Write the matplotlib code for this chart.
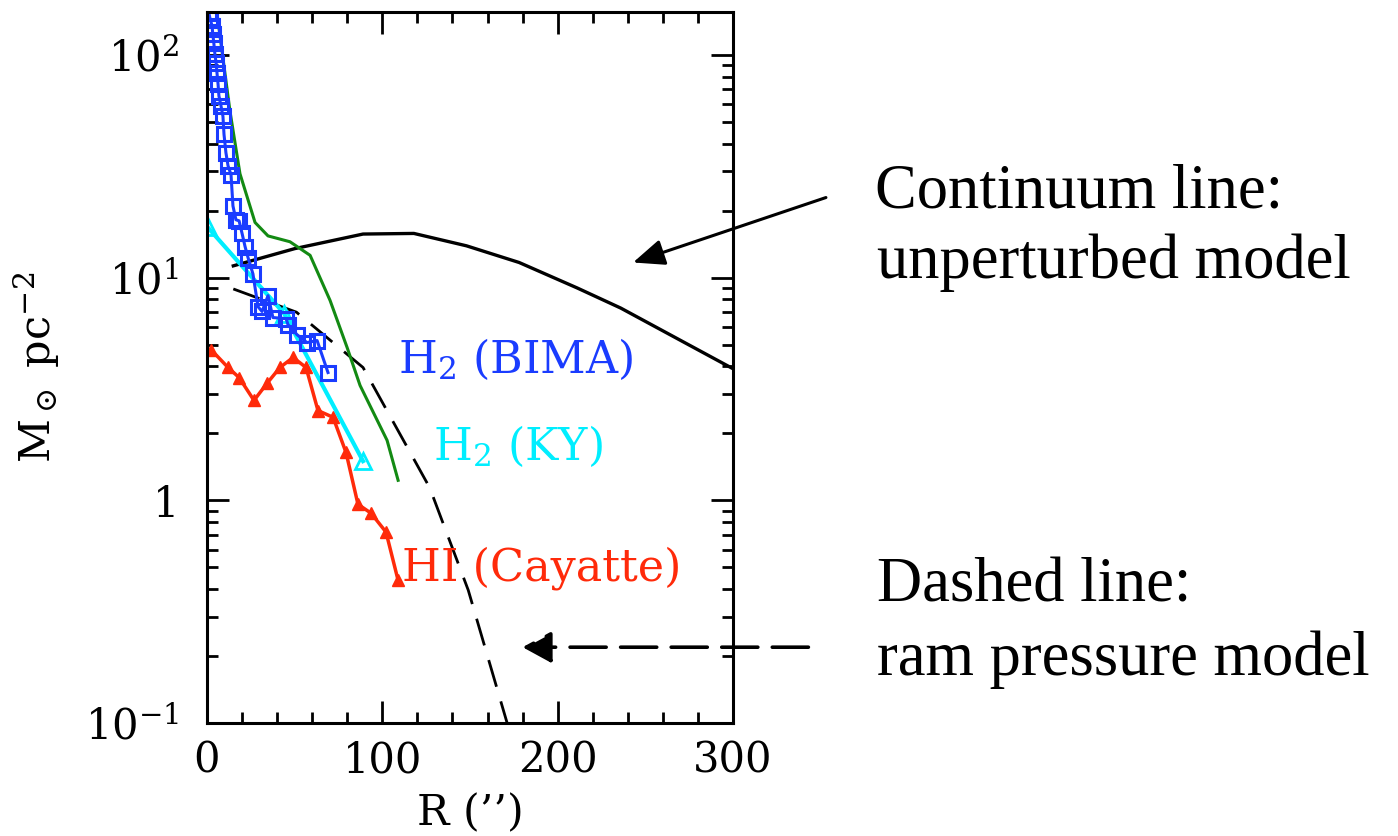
import numpy as np
import matplotlib.pyplot as plt
from matplotlib.ticker import FixedLocator, FixedFormatter, MultipleLocator, LogLocator, NullFormatter

plt.rcParams['font.family'] = 'DejaVu Serif'
plt.rcParams['mathtext.fontset'] = 'dejavuserif'

# Gas surface density profiles, R in arcsec, Sigma in Msun/pc^2
# model: unperturbed (continuum line)
r_cont = [15, 50, 89, 118, 148, 178, 211, 236, 300]
sd_cont = [11.3, 13.5, 15.7, 15.8, 13.9, 11.7, 9.0, 7.3, 3.9]

# model: ram pressure stripped (dashed)
r_ram = [15, 51, 89, 127, 149, 172]
sd_ram = [8.9, 7.0, 3.95, 1.14, 0.395, 0.095]

# green profile
r_green = [4.5, 5.7, 13.1, 18.8, 27.4, 34.8, 47.3, 58.8, 70.2, 79.9, 87.3, 102.7, 109.0]
sd_green = [180, 154, 56, 29.3, 17.7, 15.4, 14.5, 12.6, 7.9, 4.86, 3.28, 1.86, 1.23]

# H2 (BIMA)
r_bima = [1.1, 1.7, 2.9, 3.3, 3.9, 4.5, 5.2, 5.7, 6.3, 6.8, 8.0, 9.1, 9.7, 10.8,
          12.0, 13.7, 14.8, 16.5, 18.3, 20.0, 21.7, 23.4, 26.2, 29.1, 31.4, 34.8,
          37.6, 45.1, 46.2, 51.3, 57.0, 62.8, 69.0]
sd_bima = [154, 146, 135, 124, 113, 101, 92, 83, 74, 65.5, 59, 53, 44, 36.4,
           31.8, 29, 21, 18.2, 18, 15.8, 13.8, 12.3, 10.4, 7.41, 7.05, 8.3,
           6.62, 6.55, 6.15, 5.55, 5.11, 5.22, 3.75]

# H2 (KY)
r_ky = [0.5, 44, 89]
sd_ky = [16.8, 6.9, 1.5]

# HI (Cayatte)
r_hi = [2.3, 12.0, 18.3, 26.8, 34.2, 41.6, 49.1, 56.5, 63.3, 71.9, 79.3, 86.1, 93.6, 102.1, 109.0]
sd_hi = [4.75, 3.95, 3.56, 2.81, 3.35, 3.95, 4.38, 3.95, 2.53, 2.36, 1.64, 0.96, 0.875, 0.72, 0.437]

yticks = [0.1, 1, 10, 100]
ytick_labels = ['$10^{-1}$', '1', '$10^{1}$', '$10^{2}$']

blue = '#1a3cff'
cyan = '#00eeff'
red = '#ff2a0a'
green = '#138a13'

fig = plt.figure(figsize=(13.98, 8.36), dpi=100)
ax = fig.add_axes([207 / 1398, 113 / 836, 526 / 1398, 711 / 836])

ax.plot(r_cont, sd_cont, color='k', lw=2.4)
ax.plot(r_ram, sd_ram, color='k', lw=2.0, dashes=(10, 5.5))
ax.plot(r_green, sd_green, color=green, lw=2.2)
ax.plot(r_hi, sd_hi, color=red, lw=2.5, marker='^', ms=8, mec=red, mfc=red)
ax.plot(r_ky, sd_ky, color=cyan, lw=3.0, marker='^', ms=12, mfc='none', mec=cyan, mew=2.0)
ax.plot(r_bima, sd_bima, color=blue, lw=2.2, marker='s', ms=10, mfc='none', mec=blue, mew=2.2)

ax.text(109, 3.72, 'H$_2$ (BIMA)', color=blue, fontsize=32, va='baseline')
ax.text(129, 1.51, 'H$_2$ (KY)', color=cyan, fontsize=32, va='baseline')
ax.text(111, 0.437, 'HI (Cayatte)', color=red, fontsize=32, va='baseline')

ax.set_xlim(0, 300)
ax.set_yscale('log')
ax.set_ylim(0.1, 156)
ax.xaxis.set_major_locator(MultipleLocator(100))
ax.xaxis.set_minor_locator(MultipleLocator(20))
ax.yaxis.set_major_locator(FixedLocator(yticks))
ax.yaxis.set_major_formatter(FixedFormatter(ytick_labels))
ax.yaxis.set_minor_locator(LogLocator(base=10, subs=np.arange(2, 10)))
ax.yaxis.set_minor_formatter(NullFormatter())

for s in ax.spines.values():
    s.set_linewidth(2.2)
ax.tick_params(which='both', direction='in', top=True, right=True, width=2.0, labelsize=30)
ax.tick_params(which='major', length=16)
ax.tick_params(which='minor', length=8)
ax.tick_params(axis='x', pad=12)
ax.tick_params(axis='y', pad=20)

ax.set_xlabel("R (\u2019\u2019)", fontsize=31)
ax.set_ylabel(r'M$_\odot$ pc$^{-2}$', fontsize=31)
ax.xaxis.set_label_coords(0.5, -0.097)
ax.yaxis.set_label_coords(-0.275, 0.5)

# arrows pointing at the two model curves
ax.annotate('', xy=(243, 11.7), xytext=(353, 22.9), annotation_clip=False,
            arrowprops=dict(arrowstyle='-|>,head_length=0.6,head_width=0.25',
                            mutation_scale=32, lw=2.2, color='k', shrinkA=0, shrinkB=0))
ax.annotate('', xy=(180, 0.219), xytext=(343, 0.219), annotation_clip=False,
            arrowprops=dict(arrowstyle='-|>,head_length=0.55,head_width=0.3',
                            mutation_scale=32, lw=2.6, color='k', ls=(0, (10, 4)),
                            shrinkA=0, shrinkB=0))

tfont = dict(family='Liberation Serif', fontsize=45, va='baseline', ha='left')
fig.text(875 / 1398, 1 - 208 / 836, 'Continuum line:', **tfont)
fig.text(877 / 1398, 1 - 278 / 836, 'unperturbed model', **tfont)
fig.text(877 / 1398, 1 - 602 / 836, 'Dashed line:', **tfont)
fig.text(877 / 1398, 1 - 675 / 836, 'ram pressure model', **tfont)

fig.savefig('out.png', dpi=100)
